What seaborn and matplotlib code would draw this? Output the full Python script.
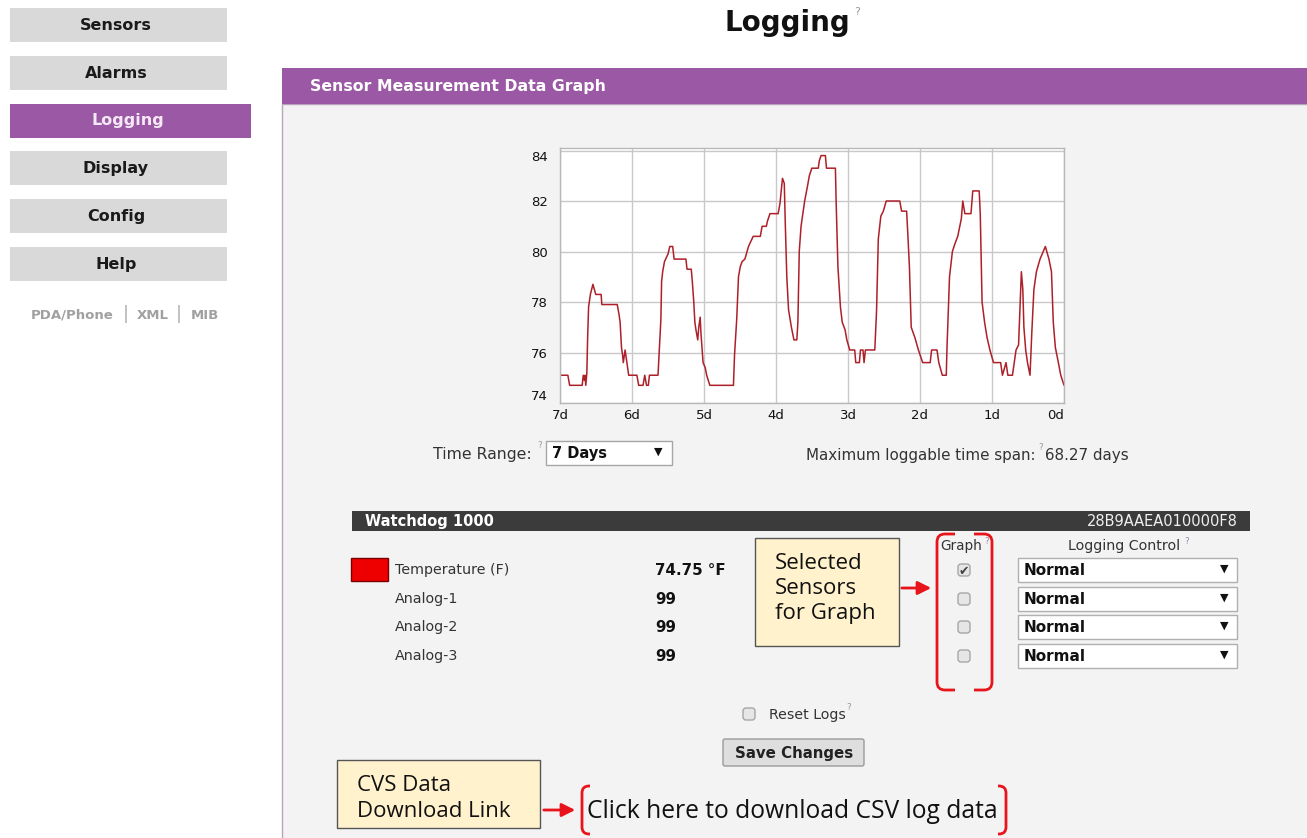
import matplotlib
matplotlib.use("Agg")
import numpy as np
import pandas as pd
import matplotlib.pyplot as plt
import seaborn as sns
from matplotlib.patches import Rectangle, FancyBboxPatch, PathPatch
from matplotlib.path import Path

# temperature log (days ago, deg F)
days_ago = [7.000, 6.891, 6.866, 6.692, 6.677, 6.662, 6.652, 6.642, 6.627, 6.617,
            6.603, 6.578, 6.543, 6.503, 6.429, 6.419, 6.205, 6.180, 6.165, 6.146,
            6.131, 6.121, 6.096, 6.071, 6.046, 5.932, 5.907, 5.847, 5.823, 5.798,
            5.773, 5.758, 5.639, 5.624, 5.599, 5.589, 5.574, 5.549, 5.500, 5.475,
            5.435, 5.415, 5.251, 5.236, 5.177, 5.162, 5.142, 5.127, 5.112, 5.087,
            5.073, 5.053, 5.043, 5.013, 4.983, 4.963, 4.919, 4.591, 4.576, 4.546,
            4.521, 4.496, 4.471, 4.432, 4.382, 4.317, 4.218, 4.193, 4.134, 4.119,
            4.084, 3.970, 3.945, 3.910, 3.885, 3.870, 3.850, 3.826, 3.786, 3.751,
            3.711, 3.696, 3.677, 3.652, 3.627, 3.602, 3.562, 3.537, 3.503, 3.413,
            3.398, 3.374, 3.314, 3.299, 3.175, 3.165, 3.140, 3.105, 3.080, 3.041,
            3.016, 2.976, 2.907, 2.892, 2.842, 2.827, 2.792, 2.777, 2.758, 2.628,
            2.604, 2.579, 2.544, 2.509, 2.469, 2.281, 2.256, 2.186, 2.171, 2.147,
            2.122, 2.072, 2.022, 1.963, 1.858, 1.839, 1.764, 1.739, 1.690, 1.635,
            1.625, 1.590, 1.550, 1.516, 1.476, 1.426, 1.406, 1.377, 1.292, 1.267,
            1.178, 1.163, 1.138, 1.103, 1.069, 1.029, 0.979, 0.880, 0.855, 0.805,
            0.780, 0.716, 0.691, 0.666, 0.631, 0.592, 0.572, 0.557, 0.532, 0.507,
            0.472, 0.447, 0.418, 0.383, 0.333, 0.259, 0.209, 0.174, 0.149, 0.120,
            0.085, 0.045, 0.000]
temp_f = [75.1, 75.1, 74.7, 74.7, 75.1, 74.9, 75.1, 74.7, 75.2, 76.5,
          77.8, 78.3, 78.7, 78.3, 78.3, 77.9, 77.9, 77.5, 77.2, 76.2,
          75.9, 75.6, 76.1, 75.6, 75.1, 75.1, 74.7, 74.7, 75.1, 74.7,
          74.7, 75.1, 75.1, 75.9, 77.3, 78.8, 79.2, 79.6, 79.9, 80.2,
          80.2, 79.7, 79.7, 79.3, 79.3, 78.8, 78.0, 77.2, 76.9, 76.5,
          77.0, 77.4, 76.8, 75.6, 75.4, 75.1, 74.7, 74.7, 75.9, 77.3,
          79.0, 79.4, 79.6, 79.7, 80.2, 80.6, 80.6, 81.0, 81.0, 81.2,
          81.5, 81.5, 81.9, 82.9, 82.7, 81.0, 79.0, 77.7, 77.0, 76.5,
          76.5, 77.2, 80.0, 81.0, 81.5, 82.0, 82.6, 83.0, 83.3, 83.3,
          83.6, 83.8, 83.8, 83.3, 83.3, 82.0, 79.4, 77.8, 77.2, 76.9,
          76.5, 76.1, 76.1, 75.6, 75.6, 76.1, 76.1, 75.6, 76.1, 76.1,
          77.6, 80.5, 81.4, 81.6, 82.0, 82.0, 81.6, 81.6, 80.8, 79.4,
          77.0, 76.6, 76.1, 75.6, 75.6, 76.1, 76.1, 75.6, 75.1, 75.1,
          76.2, 79.0, 80.0, 80.3, 80.6, 81.3, 82.0, 81.5, 81.5, 82.4,
          82.4, 81.5, 78.0, 77.2, 76.6, 76.1, 75.6, 75.6, 75.1, 75.6,
          75.1, 75.1, 75.6, 76.1, 76.3, 79.2, 78.5, 77.0, 76.1, 75.6,
          75.1, 76.8, 78.5, 79.2, 79.7, 80.2, 79.7, 79.2, 77.2, 76.2,
          75.7, 75.1, 74.7]

y_ticks = [74, 76, 78, 80, 82, 84]
x_ticks = [7, 6, 5, 4, 3, 2, 1, 0]
x_labels = ["7d", "6d", "5d", "4d", "3d", "2d", "1d", "0d"]

nav_items = ["Sensors", "Alarms", "Logging", "Display", "Config", "Help"]
nav_active = "Logging"
sensor_names = ["Temperature (F)", "Analog-1", "Analog-2", "Analog-3"]
sensor_values = ["74.75 °F", "99", "99", "99"]
graph_checked = [True, False, False, False]
logging_control = ["Normal", "Normal", "Normal", "Normal"]

PURPLE = "#9b59a5"
W, H = 1307, 838
CALLOUT_FONT = ["Open Sans", "DejaVu Sans"]

sns.set_theme(style="white")
plt.rcParams["font.family"] = ["DejaVu Sans"]

fig = plt.figure(figsize=(W / 100, H / 100), dpi=100)
bg = fig.add_axes([0, 0, 1, 1])
bg.set_xlim(0, W)
bg.set_ylim(H, 0)
bg.axis("off")


def box(x0, y0, x1, y1, fc, ec="none", lw=1, z=1):
    bg.add_patch(Rectangle((x0, y0), x1 - x0, y1 - y0, fc=fc, ec=ec, lw=lw, zorder=z))


def txt(x, y, s, size=10, **kw):
    kw.setdefault("va", "center")
    kw.setdefault("color", "#222222")
    bg.text(x, y, s, fontsize=size, zorder=5, **kw)


def bracket(x, top, bot, hook, r=8):
    # red rounded bracket, hook > 0 opens right, < 0 opens left
    s = np.sign(hook)
    verts = [(x + hook, top), (x + s * r, top), (x, top), (x, top + r),
             (x, bot - r), (x, bot), (x + s * r, bot), (x + hook, bot)]
    codes = [Path.MOVETO, Path.LINETO, Path.CURVE3, Path.CURVE3,
             Path.LINETO, Path.CURVE3, Path.CURVE3, Path.LINETO]
    bg.add_patch(PathPatch(Path(verts, codes), fc="none", ec="#e8141c", lw=2, zorder=6))


def arrow(x0, x1, y):
    bg.annotate("", xy=(x1, y), xytext=(x0, y), zorder=6,
                arrowprops=dict(arrowstyle="-|>", color="#e8141c", lw=2, mutation_scale=20))


def checkbox(x, y, checked=False):
    bg.add_patch(FancyBboxPatch((x - 6, y - 6), 12, 12, boxstyle="round,pad=0,rounding_size=3",
                                fc="#e6e6e6", ec="#a6a6a6", lw=1, zorder=4))
    if checked:
        txt(x, y + 1, "✔", 9, ha="center", color="#444444")


# left navigation
btn_tops = [8, 56, 104, 151, 199, 247]
for name, top in zip(nav_items, btn_tops):
    if name == nav_active:
        box(10, top, 251, top + 34, PURPLE)
        txt(128, top + 17, name, 11.5, ha="center", weight="bold", color="#f6e8f6")
    else:
        box(10, top, 227, top + 34, "#d9d9d9")
        txt(116, top + 17, name, 11.5, ha="center", weight="bold", color="#1a1a1a")
txt(72, 315, "PDA/Phone", 9.5, ha="center", weight="bold", color="#a0a0a0")
txt(126, 314, "|", 13, ha="center", color="#b0b0b0")
txt(153, 315, "XML", 9.5, ha="center", weight="bold", color="#a0a0a0")
txt(179, 314, "|", 13, ha="center", color="#b0b0b0")
txt(205, 315, "MIB", 9.5, ha="center", weight="bold", color="#a0a0a0")

# page title
txt(787, 23, "Logging", 20, ha="center", weight="bold", color="#111111")
txt(857, 12, "?", 8, ha="center", color="#9a9a9a")

# main panel
box(282, 104, W + 2, H + 2, "#f3f3f3", ec="#b9a3bd", lw=1)
box(282, 68, W + 2, 104, PURPLE)
txt(310, 87, "Sensor Measurement Data Graph", 11.3, weight="bold", color="#ffffff")

# time range row
txt(433, 454, "Time Range:", 11.3, color="#333333")
txt(537, 445, "?", 6.5, color="#9a9a9a")
box(546, 441, 672, 465, "#ffffff", ec="#a6a6a6")
txt(552, 453, "7 Days", 10.5, weight="bold", color="#111111")
txt(658, 452, "▼", 8, ha="center", color="#111111")
txt(806, 455, "Maximum loggable time span:", 10.9, color="#333333")
txt(1038, 447, "?", 6.5, color="#9a9a9a")
txt(1045, 455, "68.27 days", 10.9, color="#333333")

# sensor table
box(352, 511, 1250, 531, "#3b3b3b")
txt(365, 521, "Watchdog 1000", 10.5, weight="bold", color="#ffffff")
txt(1238, 521, "28B9AAEA010000F8", 10.5, ha="right", color="#f0f0f0")
txt(961, 546, "Graph", 9.8, ha="center", color="#333333")
txt(984, 541, "?", 6.5, color="#9a8aa8")
txt(1124, 546, "Logging Control", 10.3, ha="center", color="#333333")
txt(1184, 541, "?", 6.5, color="#9a8aa8")
row_y = [570, 599, 627, 656]
box(351, 558, 388, 581, "#ee0000", ec="#7a0000", lw=1)
for name, val, chk, ctl, y in zip(sensor_names, sensor_values, graph_checked, logging_control, row_y):
    txt(395, y, name, 10.3, color="#333333")
    txt(655, y, val, 10.8, weight="bold", color="#111111")
    checkbox(964, y, chk)
    box(1018, y - 12, 1237, y + 12, "#ffffff", ec="#b0b0b0")
    txt(1024, y, ctl, 11, weight="bold", color="#111111")
    txt(1224, y - 1, "▼", 8, ha="center", color="#111111")

# callouts
box(755, 538, 899, 646, "#fff2cc", ec="#555555", lw=1)
for line, y in zip(["Selected", "Sensors", "for Graph"], [563, 588, 613]):
    txt(775, y, line, 16, family=CALLOUT_FONT, color="#111111")
arrow(899, 934, 588)
bracket(937, 534, 690, 18)
bracket(992, 534, 690, -18)

checkbox(749, 714)
txt(769, 715, "Reset Logs", 10.2, color="#333333")
txt(846, 707, "?", 6.5, color="#9a9a9a")
bg.add_patch(FancyBboxPatch((723, 739), 141, 27, boxstyle="round,pad=0,rounding_size=2",
                            fc="#dedede", ec="#9a9a9a", lw=1, zorder=4))
txt(794, 753, "Save Changes", 10.8, ha="center", weight="bold", color="#222222")

box(337, 760, 540, 828, "#fff2cc", ec="#555555", lw=1)
txt(357, 785, "CVS Data", 16, family=CALLOUT_FONT, color="#111111")
txt(357, 811, "Download Link", 16, family=CALLOUT_FONT, color="#111111")
arrow(541, 578, 810)
bracket(582, 786, 834, 8, r=7)
bracket(1006, 786, 834, -8, r=7)
txt(587, 811, "Click here to download CSV log data", 17.7,
    family=CALLOUT_FONT, color="#111111")

# the sensor graph
left, right, top, bottom = 560, 1064, 148, 403
ax = fig.add_axes([left / W, 1 - bottom / H, (right - left) / W, (bottom - top) / H])
ax.set_facecolor("#ffffff")
log = pd.DataFrame({"days_ago": days_ago, "temp": temp_f})
sns.lineplot(data=log, x="days_ago", y="temp", ax=ax, color="#ad2029", lw=1.1,
             sort=False, estimator=None)
ax.set_xlim(7, 0)
ax.set_ylim(74, 84.1)
ax.set_xticks(x_ticks)
ax.set_xticklabels(x_labels)
ax.set_yticks(y_ticks)
ax.grid(True, color="#c8c8c8", lw=1)
ax.set_xlabel("")
ax.set_ylabel("")
ax.tick_params(axis="x", length=0, labelsize=9.5, colors="#111111", pad=4)
ax.tick_params(axis="y", length=0, labelsize=9.5, colors="#111111", pad=9)
ax.get_xticklabels()[-1].set_ha("right")
ax.get_yticklabels()[0].set_va("bottom")
ax.get_yticklabels()[-1].set_va("top")
for sp in ax.spines.values():
    sp.set_color("#b8b8b8")
    sp.set_linewidth(1)

fig.savefig("out.png", dpi=100)
